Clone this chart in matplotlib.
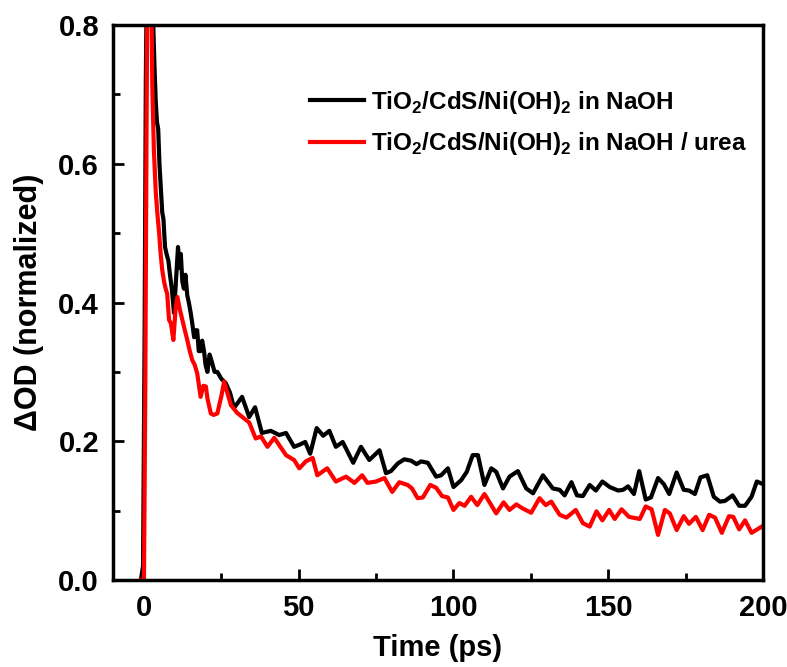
import numpy as np
import matplotlib.pyplot as plt

plt.rcParams['font.family'] = ['Liberation Sans', 'DejaVu Sans']
plt.rcParams['font.weight'] = 'bold'
plt.rcParams['axes.labelweight'] = 'bold'

# TiO2/CdS/Ni(OH)2 in NaOH
black_t = [-1.0, -0.3, 0.2, 0.6, 1.0, 1.5, 2.0, 2.5, 3.0, 3.4,
           3.8, 4.2, 4.6, 5.0, 5.4, 5.9, 6.3, 6.8, 7.3, 7.9,
           8.4, 9.0, 9.7, 10.3, 11.0, 11.5, 11.9, 12.4, 12.9, 13.4,
           14.0, 14.5, 15.1, 15.6, 16.2, 16.7, 17.2, 17.7, 18.3, 18.8,
           19.4, 19.9, 20.5, 21.2, 21.9, 22.8, 23.7, 25.0, 26.4, 27.8,
           29.1, 31.7, 34.0, 35.9, 38.1, 41.0, 43.7, 45.9, 48.5, 50.2,
           52.1, 53.7, 55.8, 57.9, 59.9, 62.0, 64.2, 67.6, 70.1, 72.8,
           76.1, 78.2, 79.8, 82.0, 84.1, 86.3, 88.1, 89.5, 91.7, 94.4,
           96.0, 98.2, 100.0, 102.5, 104.3, 106.2, 107.9, 110.0, 112.2, 113.8,
           116.0, 118.1, 120.8, 123.5, 125.7, 128.9, 132.1, 134.3, 135.9, 138.1,
           139.9, 141.8, 144.0, 146.0, 148.1, 150.5, 153.2, 154.8, 156.4, 158.3,
           160.0, 162.1, 163.8, 166.1, 168.0, 169.7, 172.1, 174.4, 176.1, 178.0,
           179.8, 182.0, 184.1, 186.1, 187.7, 190.2, 192.3, 194.2, 196.3, 198.0,
           199.6]
black_od = [0.0, 0.02, 0.35, 0.72, 0.90, 0.95, 0.92, 0.86, 0.80, 0.74,
            0.69, 0.66, 0.65, 0.60, 0.57, 0.53, 0.52, 0.48, 0.47, 0.46,
            0.44, 0.42, 0.385, 0.43, 0.48, 0.45, 0.47, 0.43, 0.42, 0.44,
            0.41, 0.40, 0.385, 0.37, 0.35, 0.36, 0.36, 0.33, 0.33, 0.345,
            0.33, 0.31, 0.30, 0.325, 0.315, 0.30, 0.30, 0.29, 0.284, 0.27,
            0.248, 0.264, 0.235, 0.249, 0.212, 0.215, 0.209, 0.212, 0.192, 0.195,
            0.199, 0.182, 0.219, 0.208, 0.215, 0.192, 0.199, 0.169, 0.192, 0.173,
            0.187, 0.154, 0.157, 0.168, 0.174, 0.172, 0.167, 0.171, 0.169, 0.149,
            0.151, 0.161, 0.134, 0.144, 0.156, 0.180, 0.180, 0.137, 0.161, 0.156,
            0.132, 0.149, 0.157, 0.132, 0.125, 0.151, 0.132, 0.130, 0.122, 0.141,
            0.122, 0.121, 0.137, 0.129, 0.142, 0.134, 0.129, 0.130, 0.135, 0.124,
            0.157, 0.116, 0.119, 0.147, 0.138, 0.124, 0.155, 0.130, 0.129, 0.124,
            0.148, 0.151, 0.120, 0.113, 0.114, 0.122, 0.107, 0.107, 0.120, 0.142,
            0.139]

# TiO2/CdS/Ni(OH)2 in NaOH / urea
red_t = [-1.0, 0.0, 0.4, 0.8, 1.2, 1.6, 2.0, 2.4, 2.7, 3.2,
         3.8, 4.3, 4.9, 5.4, 5.9, 6.5, 7.0, 7.5, 8.1, 8.7,
         9.5, 10.2, 10.8, 11.6, 12.4, 13.2, 14.0, 14.8, 15.6, 16.4,
         17.2, 18.3, 19.2, 20.0, 20.5, 21.6, 22.5, 23.7, 25.0, 25.9,
         28.1, 30.1, 34.0, 36.1, 37.8, 39.9, 42.1, 45.9, 48.5, 50.2,
         52.3, 54.5, 56.0, 59.2, 62.0, 65.3, 68.0, 70.5, 72.2, 75.0,
         77.7, 80.2, 82.5, 85.2, 86.6, 88.4, 90.1, 92.5, 94.4, 96.3,
         98.2, 100.0, 101.9, 103.6, 105.7, 107.7, 110.0, 112.2, 113.8, 116.2,
         118.1, 120.3, 122.4, 125.1, 127.8, 129.8, 131.6, 134.3, 136.5, 139.5,
         141.8, 144.0, 146.2, 148.1, 150.3, 152.1, 154.3, 156.7, 160.2, 162.1,
         164.0, 166.1, 168.3, 169.9, 172.1, 174.4, 176.1, 178.3, 180.5, 182.6,
         184.5, 186.7, 189.0, 190.4, 192.3, 194.2, 196.3, 199.6]
red_od = [0.0, 0.0, 0.25, 0.62, 0.95, 0.98, 0.90, 0.84, 0.71, 0.62,
          0.56, 0.53, 0.50, 0.47, 0.447, 0.43, 0.42, 0.413, 0.375, 0.37,
          0.346, 0.39, 0.408, 0.39, 0.375, 0.36, 0.346, 0.33, 0.317, 0.31,
          0.298, 0.264, 0.28, 0.279, 0.262, 0.240, 0.238, 0.240, 0.265, 0.286,
          0.252, 0.241, 0.227, 0.204, 0.207, 0.192, 0.205, 0.180, 0.173, 0.161,
          0.171, 0.176, 0.151, 0.161, 0.142, 0.149, 0.140, 0.151, 0.140, 0.142,
          0.147, 0.127, 0.141, 0.137, 0.132, 0.118, 0.119, 0.137, 0.133, 0.121,
          0.119, 0.101, 0.111, 0.107, 0.120, 0.108, 0.124, 0.108, 0.096, 0.112,
          0.101, 0.109, 0.103, 0.097, 0.118, 0.108, 0.113, 0.094, 0.090, 0.101,
          0.082, 0.077, 0.099, 0.086, 0.101, 0.088, 0.102, 0.091, 0.088, 0.106,
          0.102, 0.065, 0.101, 0.096, 0.072, 0.092, 0.081, 0.091, 0.072, 0.094,
          0.090, 0.068, 0.092, 0.091, 0.073, 0.086, 0.068, 0.077]

labels = [r'TiO$_\mathregular{2}$/CdS/Ni(OH)$_\mathregular{2}$ in NaOH',
          r'TiO$_\mathregular{2}$/CdS/Ni(OH)$_\mathregular{2}$ in NaOH / urea']

fig = plt.figure(figsize=(7.87, 6.67), dpi=100)
ax = fig.add_axes([0.1436, 0.1304, 0.8259, 0.8321])

ax.plot(black_t, black_od, color='black', lw=3, label=labels[0])
ax.plot(red_t, red_od, color='red', lw=3, label=labels[1])

ax.set_xlim(-10, 200)
ax.set_ylim(0, 0.8)
ax.set_xticks([0, 50, 100, 150, 200])
ax.set_xticks([25, 75, 125, 175], minor=True)
ax.set_yticks([0.0, 0.2, 0.4, 0.6, 0.8])
ax.set_yticks([0.1, 0.3, 0.5, 0.7], minor=True)
ax.yaxis.set_major_formatter(plt.FormatStrFormatter('%.1f'))

for s in ax.spines.values():
    s.set_linewidth(2.5)
ax.tick_params(which='both', direction='in', width=2, labelsize=21, pad=10)
ax.tick_params(which='major', length=8)
ax.tick_params(which='minor', length=5)

ax.set_xlabel('Time (ps)', fontsize=21, labelpad=9)
ax.set_ylabel('ΔOD (normalized)', fontsize=22, labelpad=10)

ax.legend(loc='upper left', bbox_to_anchor=(0.27, 0.925), frameon=False,
          fontsize=17.5, handlelength=2.2, handletextpad=0.3, labelspacing=0.6)

plt.savefig('out.png')
